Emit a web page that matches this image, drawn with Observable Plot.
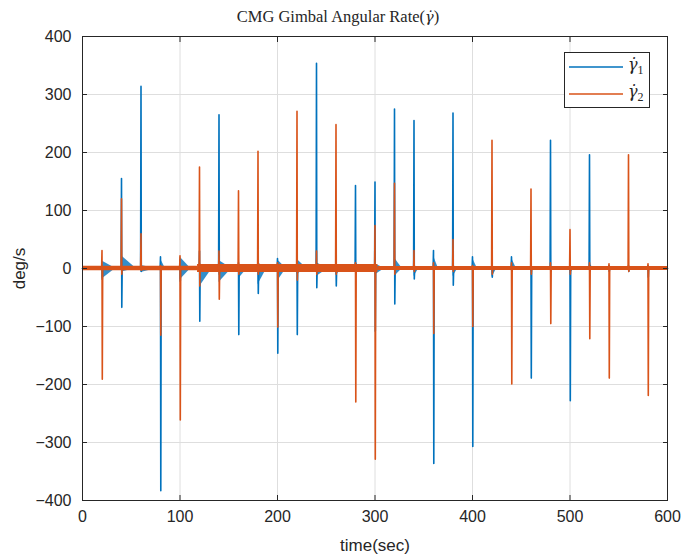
<!DOCTYPE html>
<html>
<head>
<meta charset="utf-8">
<script src="https://cdn.jsdelivr.net/npm/d3@7"></script>
<script src="https://cdn.jsdelivr.net/npm/@observablehq/plot@0.6"></script>
<style>
  html, body { margin: 0; padding: 0; background: #fff; }
  #wrap { position: relative; width: 683px; height: 558px; }
  #chart { position: absolute; left: 0; top: 0; }
  #title { position: absolute; left: 0; width: 676px; top: 7px; text-align: center;
    font-family: "Liberation Serif", "DejaVu Serif", serif; font-size: 16.5px; color: #262626; }
  .g { font-family: "DejaVu Serif", serif; font-style: italic; font-size: 14.5px; }
  #legend { position: absolute; left: 564px; top: 52px; width: 86px; height: 56px;
    border: 1px solid #262626; background: #fff; box-sizing: border-box; }
  .entry { position: absolute; left: 4px; height: 22px; display: flex; align-items: center; }
  .entry span { font-family: "DejaVu Serif", serif; font-size: 16px; color: #262626; margin-left: 5px; }
  .entry sub { font-family: "Liberation Serif", serif; font-style: normal; font-size: 12px; }
</style>
</head>
<body>
<div id="wrap">
  <div id="chart"></div>
  <div id="title">CMG Gimbal Angular Rate(<span class="g">γ̇</span>)</div>
  <div id="legend"></div>
</div>
<script>
// ---- data ----
const events = [20,40,60,80,100,120,140,160,180,200,220,240,260,280,300,320,340,360,380,400,420,440,460,480,500,520,540,560,580];
// gamma1 (blue) spike extremes
const g1Max = [5,155,314,20,15,30,265,10,20,17,20,354,10,143,149,275,255,31,268,20,5,20,5,221,5,196,5,5,5];
const g1Min = [-19,-67,-5,-383,-22,-91,-10,-114,-43,-146,-114,-33,-30,-10,-108,-61,-18,-336,-29,-307,-15,-5,-189,-5,-228,-5,-5,-5,-15];
// gamma2 (orange) spike extremes
const g2Max = [31,120,60,5,22,175,30,134,202,10,271,30,248,10,74,147,31,10,50,5,221,10,137,10,67,10,8,196,8];
const g2Min = [-191,-10,-3,-115,-261,-30,-53,-10,-10,-101,-20,-10,-10,-230,-329,-10,-5,-112,-5,-100,-10,-199,-10,-95,-10,-121,-189,-5,-219];
// gamma1 ringing envelope after each event (deg/s) and its duration (s)
const g1RingUp   = [13,22,5,17,20,8,14,6,10,15,16,10,6,12,8,18,6,22,6,18,4,18,4,4,4,9,3,3,3];
const g1RingDown = [-18,-6,-7,-5,-20,-32,-24,-18,-28,-22,-10,-14,-11,-8,-11,-14,-14,-6,-14,-6,-15,-5,-5,-5,-9,-4,-3,-3,-3];
const g1RingDur  = [14,15,16,5,11,13,13,9,9,9,10,12,7,5,10,8,5,5,5,5,5,5,4,4,4,4,4,4,4];
// gamma2 noise band: segment start, end (s) and half-width (deg/s)
const bandStart = [0,118,303];
const bandEnd   = [118,303,600];
const bandAmp   = [4,7,3.5];
// axis ticks
const xTicks = [0,100,200,300,400,500,600];
const yTicks = [-400,-300,-200,-100,0,100,200,300,400];

const BLUE = "#0072BD", ORANGE = "#D95319", INK = "#262626";

// ---- tables built from the arrays ----
function spikes(maxA, minA) {
  const pts = [{t: 0, v: 0}];
  events.forEach((t, i) => {
    pts.push({t: t - 0.4, v: 0}, {t: t, v: maxA[i]}, {t: t + 0.3, v: minA[i]}, {t: t + 0.7, v: 0});
  });
  pts.push({t: 600, v: 0});
  return pts;
}
const s1 = spikes(g1Max, g1Min);
const s2 = spikes(g2Max, g2Min);

const rings = [];
events.forEach((t, i) => {
  rings.push({t: t, lo: g1RingDown[i], hi: g1RingUp[i], k: i});
  rings.push({t: t + g1RingDur[i], lo: 0, hi: 0, k: i});
});
const band = [];
bandStart.forEach((s, i) => {
  band.push({t: s, a: bandAmp[i], k: i}, {t: bandEnd[i], a: bandAmp[i], k: i});
});

const chart = Plot.plot({
  width: 683,
  height: 558,
  marginTop: 36,
  marginLeft: 82,
  marginRight: 16,
  marginBottom: 58,
  style: {fontFamily: "'Liberation Sans', Arial, sans-serif", fontSize: "16px", color: INK, background: "#fff", overflow: "visible"},
  x: {domain: [0, 600], ticks: xTicks},
  y: {domain: [-400, 400], ticks: yTicks},
  marks: [
    Plot.gridX(xTicks, {stroke: "#dedede", strokeOpacity: 1}),
    Plot.gridY(yTicks, {stroke: "#dedede", strokeOpacity: 1}),
    Plot.areaY(rings, {x: "t", y1: "lo", y2: "hi", z: "k", fill: BLUE, fillOpacity: 0.8, curve: "linear"}),
    Plot.line(s1, {x: "t", y: "v", stroke: BLUE, strokeWidth: 1.6}),
    Plot.areaY(band, {x: "t", y1: d => -d.a, y2: "a", z: "k", fill: ORANGE, fillOpacity: 1}),
    Plot.line(s2, {x: "t", y: "v", stroke: ORANGE, strokeWidth: 1.6}),
    Plot.frame({stroke: INK, strokeWidth: 1}),
    Plot.axisX(xTicks, {anchor: "bottom", tickSize: 0, tickPadding: 10, label: "time(sec)", labelAnchor: "center", labelOffset: 50, labelArrow: "none", fontSize: 16}),
    Plot.axisY(yTicks, {anchor: "left", tickSize: 0, tickPadding: 11, label: "deg/s", labelAnchor: "center", labelOffset: 70, labelArrow: "none", fontSize: 16}),
    Plot.axisX(xTicks, {anchor: "bottom", tickSize: -5, tickFormat: () => "", label: null, stroke: INK}),
    Plot.axisX(xTicks, {anchor: "top", tickSize: -5, tickFormat: () => "", label: null, stroke: INK}),
    Plot.axisY(yTicks, {anchor: "left", tickSize: -5, tickFormat: () => "", label: null, stroke: INK}),
    Plot.axisY(yTicks, {anchor: "right", tickSize: -5, tickFormat: () => "", label: null, stroke: INK})
  ]
});
chart.querySelectorAll("g[aria-label='x-axis label'] text, g[aria-label='y-axis label'] text").forEach(t => t.setAttribute("font-size", "17"));
document.getElementById("chart").appendChild(chart);

// legend
const legend = document.getElementById("legend");
[["1", BLUE, 3], ["2", ORANGE, 30]].forEach(([n, c, top]) => {
  const e = document.createElement("div");
  e.className = "entry";
  e.style.top = top + "px";
  e.innerHTML = `<svg width="54" height="4"><line x1="0" y1="2" x2="54" y2="2" stroke="${c}" stroke-width="1.6"/></svg><span><i>γ̇</i><sub>${n}</sub></span>`;
  legend.appendChild(e);
});
</script>
</body>
</html>
